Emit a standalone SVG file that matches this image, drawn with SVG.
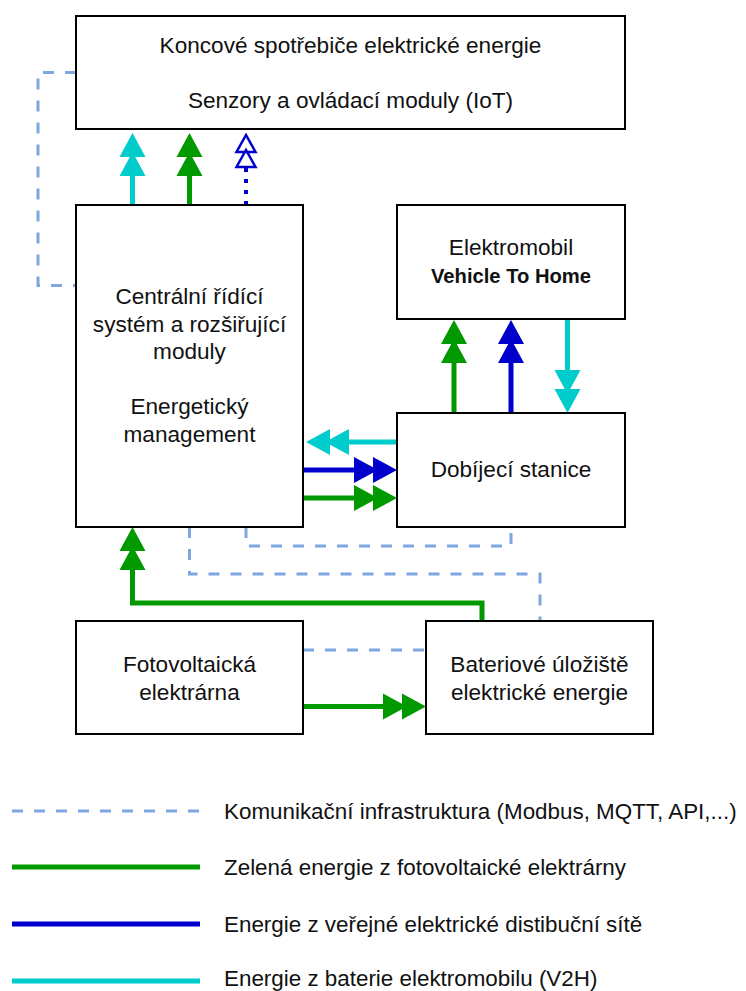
<svg xmlns="http://www.w3.org/2000/svg" width="746" height="991" viewBox="0 0 746 991">
<style>
.box{fill:#fff;stroke:#000;stroke-width:2}
.t{font-family:"Liberation Sans",Arial,sans-serif;font-size:22.6px;fill:#111;text-anchor:middle}
.tb{font-family:"Liberation Sans",Arial,sans-serif;font-size:20.2px;font-weight:bold;fill:#111;text-anchor:middle}
.lt{font-family:"Liberation Sans",Arial,sans-serif;font-size:22.4px;fill:#111}
.comm{fill:none;stroke:#7EA6E0;stroke-width:3;stroke-dasharray:11 11}
.g{fill:none;stroke:#009900;stroke-width:5}
.b{fill:none;stroke:#0000CC;stroke-width:5}
.c{fill:none;stroke:#00CCCC;stroke-width:5}
</style>
<defs>
<marker id="mg" viewBox="0 0 44 28" markerWidth="44" markerHeight="28" refX="33" refY="14" orient="auto" markerUnits="userSpaceOnUse"><path d="M24 14 L0 1 L0 27 Z M43 14 L19 1 L19 27 Z" fill="#009900"/></marker>
<marker id="mb" viewBox="0 0 44 28" markerWidth="44" markerHeight="28" refX="33" refY="14" orient="auto" markerUnits="userSpaceOnUse"><path d="M24 14 L0 1 L0 27 Z M43 14 L19 1 L19 27 Z" fill="#0000CC"/></marker>
<marker id="mc" viewBox="0 0 44 28" markerWidth="44" markerHeight="28" refX="33" refY="14" orient="auto" markerUnits="userSpaceOnUse"><path d="M24 14 L0 1 L0 27 Z M43 14 L19 1 L19 27 Z" fill="#00CCCC"/></marker>
<marker id="mbo" viewBox="0 0 36 24" markerWidth="36" markerHeight="24" refX="2" refY="12" orient="auto" markerUnits="userSpaceOnUse"><path d="M19 12 L2 2.5 L2 21.5 Z M34 12 L17 2.5 L17 21.5 Z" fill="none" stroke="#0000CC" stroke-width="2.5" stroke-linejoin="miter"/></marker>
</defs>
<g id="connectors">
<path class="comm" d="M76 72.5 H38 V285.5 H76"/>
<path class="comm" d="M246 527 V546 H511 V527"/>
<path class="comm" d="M189.5 527 V574 H540 V621"/>
<path class="comm" d="M303 650 H426"/>
<path class="c" d="M132.5 205 V143" marker-end="url(#mc)"/>
<path class="g" d="M189.5 205 V143" marker-end="url(#mg)"/>
<path d="M246 205 V167" fill="none" stroke="#0000CC" stroke-width="4" stroke-dasharray="4 7" marker-end="url(#mbo)"/>
<path class="g" d="M454 413 V330" marker-end="url(#mg)"/>
<path class="b" d="M511 413 V330" marker-end="url(#mb)"/>
<path class="c" d="M567.5 319 V403" marker-end="url(#mc)"/>
<path class="c" d="M397 442 H316" marker-end="url(#mc)"/>
<path class="b" d="M303 470 H387" marker-end="url(#mb)"/>
<path class="g" d="M303 498 H387" marker-end="url(#mg)"/>
<path class="g" d="M482 621 V603 H132.5 V537" marker-end="url(#mg)"/>
<path class="g" d="M303 706.5 H416" marker-end="url(#mg)"/>
</g>
<g id="n-spotrebice">
<rect class="box" x="76" y="16" width="549" height="113"/>
<text class="t" x="350.5" y="53">Koncové spotřebiče elektrické energie</text>
<text class="t" x="350.5" y="108">Senzory a ovládací moduly (IoT)</text>
</g>
<g id="n-centralni">
<rect class="box" x="76" y="205" width="227" height="322"/>
<text class="t" x="189.5" y="304">Centrální řídící</text>
<text class="t" x="189.5" y="331.5">systém a rozšiřující</text>
<text class="t" x="189.5" y="359">moduly</text>
<text class="t" x="189.5" y="414">Energetický</text>
<text class="t" x="189.5" y="441.5">management</text>
</g>
<g id="n-elektromobil">
<rect class="box" x="397" y="205" width="228" height="114"/>
<text class="t" x="511" y="255">Elektromobil</text>
<text class="tb" x="511" y="283">Vehicle To Home</text>
</g>
<g id="n-dobijeci">
<rect class="box" x="397" y="413" width="228" height="114"/>
<text class="t" x="511" y="477">Dobíjecí stanice</text>
</g>
<g id="n-fve">
<rect class="box" x="76" y="621" width="227" height="113"/>
<text class="t" x="189.5" y="672">Fotovoltaická</text>
<text class="t" x="189.5" y="699.5">elektrárna</text>
</g>
<g id="n-baterie">
<rect class="box" x="426" y="621" width="227" height="113"/>
<text class="t" x="539.5" y="672">Bateriové úložiště</text>
<text class="t" x="539.5" y="699.5">elektrické energie</text>
</g>
<g id="legend">
<line class="comm" x1="12" y1="811" x2="200" y2="811"/>
<text class="lt" x="224" y="818.5">Komunikační infrastruktura (Modbus, MQTT, API,...)</text>
<line class="g" x1="12" y1="867" x2="200" y2="867"/>
<text class="lt" x="224" y="875">Zelená energie z fotovoltaické elektrárny</text>
<line class="b" x1="12" y1="924" x2="200" y2="924"/>
<text class="lt" x="224" y="932">Energie z veřejné elektrické distibuční sítě</text>
<line class="c" x1="12" y1="981" x2="200" y2="981"/>
<text class="lt" x="224" y="985.5">Energie z baterie elektromobilu (V2H)</text>
</g>
</svg>
